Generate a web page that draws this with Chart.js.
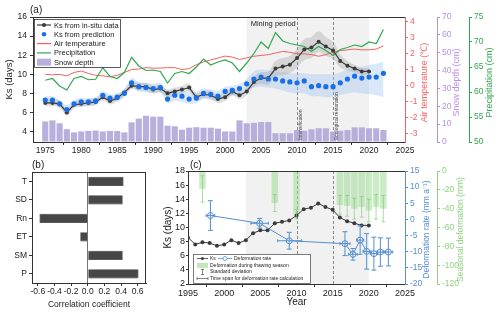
<!DOCTYPE html>
<html>
<head>
<meta charset="utf-8">
<script src="https://cdn.jsdelivr.net/npm/chart.js@4.4.1/dist/chart.umd.min.js"></script>
<style>
  html, body { margin: 0; padding: 0; background: #fff; }
  #wrap { position: relative; width: 500px; height: 312px; overflow: hidden; }
  canvas { position: absolute; }
</style>
</head>
<body>
<div id="wrap">
  <canvas id="chartA" width="500" height="157" style="left:0;top:0"></canvas>
  <canvas id="chartB" width="160" height="154" style="left:0;top:158px"></canvas>
  <canvas id="chartC" width="340" height="154" style="left:160px;top:158px"></canvas>
</div>
<script>
// ---- panel (a) data ----
const years = [1975, 1976, 1977, 1978, 1979, 1980, 1981, 1982, 1983, 1984,
               1985, 1986, 1987, 1988, 1989, 1990, 1991, 1992, 1993, 1994,
               1995, 1996, 1997, 1998, 1999, 2000, 2001, 2002, 2003, 2004,
               2005, 2006, 2007, 2008, 2009, 2010, 2011, 2012, 2013, 2014,
               2015, 2016, 2017, 2018, 2019, 2020, 2021, 2022];
const ksInsitu = [7.0, 7.0, 6.9, 6.0, 6.8, 6.9, 7.0, 7.1, 7.6, 7.2,
                  7.5, 8.1, 8.8, 8.7, 8.7, 8.4, 8.5, 8.0, 8.2, 8.4,
                  8.6, 7.6, 7.9, 7.8, 7.4, 7.6, 8.2, 7.8, 8.2, 9.2,
                  9.6, 9.6, 10.6, 10.8, 11.0, 11.7, 12.6, 12.8, 13.4, 12.9,
                  12.5, 11.4, 10.9, 10.6, 10.3, 10.3, null, null];
const ksInsituHi = [7.35, 7.35, 7.25, 6.35, 7.15, 7.25, 7.35, 7.45, 7.95, 7.55,
                    7.85, 8.45, 9.2, 9.1, 9.1, 8.8, 8.9, 8.4, 8.6, 8.8,
                    9.0, 8.0, 8.3, 8.2, 7.8, 8.0, 8.6, 8.2, 8.6, 9.7,
                    10.2, 10.3, 11.4, 11.7, 11.9, 12.7, 13.7, 13.9, 14.5, 13.9,
                    13.4, 12.1, 11.4, 11.0, 10.65, 10.65, null, null];
const ksInsituLo = [6.65, 6.65, 6.55, 5.65, 6.45, 6.55, 6.65, 6.75, 7.25, 6.85,
                    7.15, 7.75, 8.4, 8.3, 8.3, 8.0, 8.1, 7.6, 7.8, 8.0,
                    8.2, 7.2, 7.5, 7.4, 7.0, 7.2, 7.8, 7.4, 7.8, 8.7,
                    9.0, 8.9, 9.8, 9.9, 10.1, 10.7, 11.5, 11.7, 12.3, 11.9,
                    11.6, 10.7, 10.4, 10.2, 9.95, 9.95, null, null];
const ksPredicted = [7.3, 7.3, 6.9, 6.3, 6.9, 7.1, 7.1, 7.2, 7.8, 7.5,
                     7.6, 8.0, 9.1, 8.7, 8.6, 8.5, 8.6, 7.4, 7.8, 7.7,
                     7.4, 7.5, 8.0, 7.9, 7.7, 8.2, 8.3, 8.5, 9.0, 9.5,
                     9.7, 9.5, 9.5, 9.3, 9.2, 9.1, 9.3, 8.7, 8.8, 8.7,
                     8.7, 9.1, 9.5, 9.8, 9.6, 9.7, 9.7, 10.1];
const ksPredHi = [7.7, 7.7, 7.3, 6.8, 7.3, 7.5, 7.5, 7.6, 8.2, 7.9,
                  8.0, 8.4, 9.6, 9.2, 9.1, 9.0, 9.1, 8.3, 8.4, 8.3,
                  8.2, 8.2, 8.5, 8.4, 8.3, 8.7, 8.8, 9.0, 9.5, 10.3,
                  10.5, 10.4, 10.3, 10.2, 10.1, 10.1, 10.1, 10.0, 10.0, 10.0,
                  10.0, 10.2, 10.5, 10.7, 10.8, 11.0, 11.1, 11.3];
const ksPredLo = [6.9, 6.9, 6.5, 5.9, 6.5, 6.7, 6.7, 6.8, 7.4, 7.1,
                  7.2, 7.6, 8.6, 8.2, 8.1, 8.0, 8.1, 7.0, 7.2, 7.1,
                  6.9, 7.0, 7.4, 7.3, 7.2, 7.6, 7.7, 8.0, 8.4, 8.6,
                  8.7, 8.6, 8.5, 8.3, 8.1, 8.0, 8.0, 7.7, 7.7, 7.6,
                  7.6, 7.8, 8.0, 8.1, 8.0, 7.9, 7.8, 7.6];
const airTemp = [0.72, 0.69, 0.72, 0.63, 0.84, 0.93, 0.78, 0.66, 0.63, 0.57,
                 0.66, 0.84, 1.02, 1.05, 1.14, 1.11, 1.11, 1.14, 1.14, 1.02,
                 1.08, 1.32, 1.5, 1.62, 1.74, 1.86, 1.8, 1.65, 1.75, 1.85,
                 1.9, 1.95, 2.05, 2.15, 2.1, 2.0, 2.0, 1.95, 1.85, 1.95,
                 2.1, 2.2, 2.25, 2.3, 2.25, 2.25, 2.3, 2.5];
const precipitation = [62.35, 62.7, 61.2, 60.4, 62.7, 63.1, 62.45, 62.55, 64.85, 63.1,
                       62.7, 63.9, 66.95, 65.2, 64.3, 64.4, 64.1, 61.8, 63.7, 64.1,
                       63.7, 65.0, 66.6, 65.4, 66.0, 66.4, 65.8, 64.1, 65.8, 67.7,
                       70.0, 68.7, 71.9, 70.2, 69.7, 69.4, 69.1, 68.1, 69.1, 68.3,
                       67.3, 68.5, 68.9, 69.4, 69.1, 70.0, 69.7, 72.5];
const snowDepth = [11.5, 12.1, 10.5, 7.2, 5.4, 5.9, 6.2, 6.4, 5.9, 6.2,
                   6.2, 5.4, 11.0, 13.1, 14.7, 14.2, 14.2, 9.1, 8.8, 6.9,
                   8.0, 8.3, 8.0, 8.0, 7.5, 5.9, 5.9, 12.1, 10.5, 10.7,
                   11.2, 11.2, 4.9, 4.9, 4.9, 6.7, 6.3, 7.1, 7.7, 7.7,
                   5.8, 6.3, 6.7, 8.2, 8.2, 7.7, 7.7, 6.7];
const miningPeriod = [2003, 2020];
const eventYears = [2010, 2015];
const yearTicksA = [1975, 1980, 1985, 1990, 1995, 2000, 2005, 2010, 2015, 2020, 2025];
const ksTicksA = [4, 6, 8, 10, 12, 14, 16];
const tempTicks = [-3, -2, -1, 0, 1, 2, 3, 4];
const snowTicks = [0, 10, 20, 30, 40, 50, 60, 70];
const precipTicks = [50, 55, 60, 65, 70, 75];

// ---- panel (b) data ----
const factors = ['T', 'SD', 'Rn', 'ET', 'SM', 'P'];
const correlation = [0.43, 0.42, -0.58, -0.09, 0.42, 0.61];
const corrTicks = [-0.6, -0.4, -0.2, 0, 0.2, 0.4, 0.6];

// ---- panel (c) data ----
const seasonYears = [1997, 2007, 2010, 2016, 2017, 2018, 2019, 2020, 2021, 2022];
const seasonDef = [-19, -34, -46, -36, -37, -40, -38, -42, -38, -40];
const seasonErr = [14, 9, 5, 10, 11, 11, 11, 12, 13, 14];
const rateYears = [1998.1, 2004.9, 2009.0, 2016.7, 2017.8, 2018.8, 2019.7, 2020.7, 2021.6, 2022.7];
const rateValues = [1.2, -1.2, -6.6, -7.5, -10.8, -6.4, -9.9, -10.6, -10.1, -10.1];
const rateErr = [4.6, 1.5, 2.6, 3.7, 1.8, 4.4, 5.5, 5.1, 4.4, 4.3];
const rateSpanStart = [1997.5, 2003.7, 2007.4, 2016.0, 2017.2, 2018.3, 2019.2, 2020.2, 2021.1, 2022.1];
const rateSpanEnd = [1998.7, 2006.1, 2010.7, 2017.4, 2018.4, 2019.3, 2020.3, 2021.2, 2022.1, 2023.3];
const yearTicksC = [1995, 2000, 2005, 2010, 2015, 2020, 2025];
const ksTicksC = [2, 4, 6, 8, 10, 12, 14, 16, 18];
const rateTicks = [-20, -15, -10, -5, 0, 5, 10, 15];
const seasonTicks = [-120, -100, -80, -60, -40, -20, 0];

const FONT = '"Liberation Sans", Arial, Helvetica, sans-serif';
Chart.defaults.font.family = FONT;
Chart.defaults.font.size = 8.5;
Chart.defaults.color = '#222';
Chart.defaults.animation = false;

const C_KS = '#3b3b3b';
const C_PRED = '#1b6fe6';
const C_TEMP = '#f06262';
const C_PRECIP = '#2fa84f';
const C_SNOW = 'rgba(176,166,216,0.9)';
const C_SNOW_AXIS = '#bb8ee8';
const C_RATE = '#5690cf';
const C_SEASON = '#8fd17f';

function setTicks(vals) { return s => { s.ticks = vals.map(v => ({ value: v })); }; }
function fixedWidth(w) { return s => { s.width = w; }; }
function fixedHeight(h) { return s => { s.height = h; }; }
function points(xs, ys) { return xs.map((x, i) => ({ x: x, y: ys[i] })); }

function sideAxis(pos, color, min, max, tickVals, width) {
  return {
    position: pos, min: min, max: max,
    afterBuildTicks: setTicks(tickVals),
    afterFit: fixedWidth(width),
    ticks: { color: color, padding: 2, font: { size: 8.5 } },
    grid: { drawOnChartArea: false, tickLength: 3, color: color },
    border: { color: color }
  };
}

function vText(ctx, text, x, y, color, size, align) {
  ctx.save();
  ctx.translate(x, y);
  ctx.rotate(-Math.PI / 2);
  ctx.fillStyle = color;
  ctx.font = size + 'px ' + FONT;
  ctx.textAlign = align || 'center';
  ctx.textBaseline = 'middle';
  ctx.fillText(text, 0, 0);
  ctx.restore();
}

function line(ctx, x1, y1, x2, y2) {
  ctx.beginPath();
  ctx.moveTo(x1, y1);
  ctx.lineTo(x2, y2);
  ctx.stroke();
}

function shadePeriods(chart) {
  const { ctx, chartArea: a, scales: { x } } = chart;
  const x0 = x.getPixelForValue(miningPeriod[0]);
  const x1 = x.getPixelForValue(miningPeriod[1]);
  ctx.save();
  ctx.fillStyle = '#f1f1f1';
  ctx.fillRect(x0, a.top, x1 - x0, a.bottom - a.top);
  ctx.strokeStyle = '#8a8a8a';
  ctx.lineWidth = 1;
  ctx.setLineDash([3, 2]);
  eventYears.forEach(yr => {
    const px = Math.round(x.getPixelForValue(yr)) + 0.5;
    line(ctx, px, a.top, px, a.bottom);
  });
  ctx.restore();
}

function topBorder(chart, color) {
  const { ctx, chartArea: a } = chart;
  ctx.save();
  ctx.strokeStyle = color;
  ctx.lineWidth = 1;
  line(ctx, a.left, a.top + 0.5, a.right, a.top + 0.5);
  ctx.restore();
}

// ---------- panel (a) ----------
const panelA = {
  id: 'panelA',
  beforeDatasetsDraw(chart) { shadePeriods(chart); },
  afterDraw(chart) {
    const { ctx, chartArea: a, scales } = chart;
    topBorder(chart, '#333');
    ctx.save();
    ctx.fillStyle = '#222';
    ctx.font = '10px ' + FONT;
    ctx.textBaseline = 'middle';
    ctx.fillText('(a)', 30, 10);
    ctx.font = '7.5px ' + FONT;
    ctx.fillText('Mining period', scales.x.getPixelForValue(miningPeriod[0]) + 4, a.top + 7);
    ctx.restore();
    vText(ctx, 'Intensification', scales.x.getPixelForValue(eventYears[0]) + 4, a.bottom - 2, '#444', 5, 'left');
    vText(ctx, 'Ecological restoration', scales.x.getPixelForValue(eventYears[1]) + 4, a.bottom - 2, '#444', 5, 'left');

    const midY = (a.top + a.bottom) / 2 + 3;
    vText(ctx, 'Air temperature (\u2103)', scales.yT.left + 20, midY, C_TEMP, 9);
    vText(ctx, 'Snow depth (cm)', scales.ySD.left + 20, midY, C_SNOW_AXIS, 9);
    vText(ctx, 'Precipitation (cm)', scales.yP.left + 21, midY, C_PRECIP, 9);

    // legend
    const x0 = a.left + 1, y0 = 19, w = 86, h = 48;
    ctx.save();
    ctx.fillStyle = '#fff';
    ctx.fillRect(x0, y0, w, h);
    ctx.strokeStyle = '#333';
    ctx.lineWidth = 0.8;
    ctx.strokeRect(x0 + 0.5, y0 + 0.5, w, h);
    const labels = ['Ks from in-situ data', 'Ks from prediction', 'Air temperature', 'Precipitation', 'Snow depth'];
    labels.forEach((t, i) => {
      const yy = y0 + 6 + i * 9.3;
      if (i === 0 || i === 2 || i === 3) {
        ctx.strokeStyle = [C_KS, null, C_TEMP, C_PRECIP][i];
        ctx.lineWidth = 1.2;
        line(ctx, x0 + 3, yy, x0 + 17, yy);
      }
      if (i === 0 || i === 1) {
        ctx.fillStyle = i === 0 ? C_KS : C_PRED;
        ctx.beginPath();
        ctx.arc(x0 + 10, yy, i === 0 ? 2 : 2.3, 0, Math.PI * 2);
        ctx.fill();
      }
      if (i === 4) {
        ctx.fillStyle = C_SNOW;
        ctx.fillRect(x0 + 3, yy - 3.5, 14, 7);
      }
      ctx.fillStyle = '#222';
      ctx.font = '7.5px ' + FONT;
      ctx.textBaseline = 'middle';
      ctx.fillText(t, x0 + 20, yy + 0.5);
    });
    ctx.restore();
  }
};

new Chart(document.getElementById('chartA'), {
  type: 'line',
  data: {
    datasets: [
      { data: points(years, ksInsituHi), yAxisID: 'yKs', fill: '+1', backgroundColor: 'rgba(160,160,160,0.35)', borderWidth: 0, pointRadius: 0, tension: 0.4, order: 8 },
      { data: points(years, ksInsituLo), yAxisID: 'yKs', fill: false, borderWidth: 0, pointRadius: 0, tension: 0.4, order: 8 },
      { data: points(years, ksPredHi), yAxisID: 'yKs', fill: '+1', backgroundColor: 'rgba(150,190,240,0.35)', borderWidth: 0, pointRadius: 0, tension: 0.4, order: 9 },
      { data: points(years, ksPredLo), yAxisID: 'yKs', fill: false, borderWidth: 0, pointRadius: 0, tension: 0.4, order: 9 },
      { data: points(years, ksInsitu), yAxisID: 'yKs', borderColor: C_KS, borderWidth: 1.2, pointRadius: 2, pointBackgroundColor: C_KS, pointBorderWidth: 0, order: 2 },
      { data: points(years, ksPredicted), yAxisID: 'yKs', showLine: false, pointRadius: 2.6, pointBackgroundColor: C_PRED, pointBorderWidth: 0, order: 1 },
      { data: points(years, airTemp), yAxisID: 'yT', borderColor: C_TEMP, borderWidth: 1, pointRadius: 0, order: 5 },
      { data: points(years, precipitation), yAxisID: 'yP', borderColor: C_PRECIP, borderWidth: 1.2, pointRadius: 0, order: 4 },
      { type: 'bar', data: points(years, snowDepth), yAxisID: 'ySD', backgroundColor: C_SNOW, barPercentage: 0.85, categoryPercentage: 1, order: 10 }
    ]
  },
  options: {
    responsive: false,
    events: [],
    layout: { padding: { top: 17, left: 0, right: 0, bottom: 0 } },
    plugins: { legend: { display: false }, tooltip: { enabled: false } },
    scales: {
      x: {
        type: 'linear', min: 1973.3, max: 2025, offset: false,
        afterBuildTicks: setTicks(yearTicksA),
        afterFit: fixedHeight(15),
        ticks: { callback: v => String(v), padding: 1, maxRotation: 0, autoSkip: false, font: { size: 8.5 } },
        grid: { drawOnChartArea: false, tickLength: 3, color: '#333' },
        border: { color: '#333' }
      },
      yKs: {
        position: 'left', min: 2.9, max: 16,
        afterBuildTicks: setTicks(ksTicksA),
        afterFit: fixedWidth(33),
        ticks: { padding: 3, font: { size: 8.5 } },
        grid: { drawOnChartArea: false, tickLength: 3, color: '#333' },
        border: { color: '#333' },
        title: { display: true, text: 'Ks (days)', font: { size: 9.5 }, padding: { top: 4, bottom: 0 } }
      },
      yT: sideAxis('right', C_TEMP, -3.5, 4.3, tempTicks, 32),
      ySD: sideAxis('right', C_SNOW_AXIS, 0, 70, snowTicks, 32),
      yP: sideAxis('right', C_PRECIP, 50, 75, precipTicks, 31)
    }
  },
  plugins: [panelA]
});

// ---------- panel (b) ----------
const panelB = {
  id: 'panelB',
  afterDraw(chart) {
    const { ctx, chartArea: a } = chart;
    ctx.save();
    ctx.strokeStyle = '#333';
    ctx.lineWidth = 1;
    line(ctx, a.left, a.top + 0.5, a.right, a.top + 0.5);
    line(ctx, a.right - 0.5, a.top, a.right - 0.5, a.bottom);
    ctx.fillStyle = '#222';
    ctx.font = '10px ' + FONT;
    ctx.textBaseline = 'middle';
    ctx.fillText('(b)', 32, 7);
    ctx.restore();
  }
};

new Chart(document.getElementById('chartB'), {
  type: 'bar',
  data: {
    labels: factors,
    datasets: [{ data: correlation, backgroundColor: '#474747', borderColor: '#2b2b2b', borderWidth: 0.6, barPercentage: 0.5, categoryPercentage: 1 }]
  },
  options: {
    responsive: false,
    events: [],
    indexAxis: 'y',
    layout: { padding: { top: 14, right: 14, left: 0, bottom: 0 } },
    plugins: { legend: { display: false }, tooltip: { enabled: false } },
    scales: {
      x: {
        min: -0.67, max: 0.7,
        afterBuildTicks: setTicks(corrTicks),
        afterFit: fixedHeight(29),
        ticks: { callback: v => v.toFixed(1), padding: 1, maxRotation: 0, autoSkip: false },
        grid: { color: c => (c.tick && c.tick.value === 0 ? '#777' : 'rgba(0,0,0,0)'), tickColor: '#333', tickLength: 3 },
        border: { color: '#333' },
        title: { display: true, text: 'Correlation coefficient', font: { size: 8.5 }, padding: { top: 2, bottom: 2 } }
      },
      y: {
        afterFit: fixedWidth(32),
        ticks: { padding: 2 },
        grid: { offset: false, drawOnChartArea: false, tickLength: 3, color: '#333' },
        border: { color: '#333' }
      }
    }
  },
  plugins: [panelB]
});

// ---------- panel (c) ----------
const panelC = {
  id: 'panelC',
  beforeDatasetsDraw(chart) { shadePeriods(chart); },
  afterDatasetsDraw(chart) {
    const { ctx, scales: { x, yRate, ySeason } } = chart;
    ctx.save();
    // seasonal deformation standard deviation
    ctx.strokeStyle = 'rgba(125,200,112,0.8)';
    ctx.lineWidth = 0.8;
    seasonYears.forEach((yr, i) => {
      const px = x.getPixelForValue(yr);
      const yLow = ySeason.getPixelForValue(seasonDef[i] - seasonErr[i]);
      const yHigh = ySeason.getPixelForValue(Math.min(0, seasonDef[i] + seasonErr[i]));
      line(ctx, px, yLow, px, yHigh);
      line(ctx, px - 2, yLow, px + 2, yLow);
      line(ctx, px - 2, yHigh, px + 2, yHigh);
    });
    // deformation rate: standard deviation and time span
    ctx.strokeStyle = C_RATE;
    ctx.lineWidth = 1;
    rateYears.forEach((yr, i) => {
      const px = x.getPixelForValue(yr);
      const py = yRate.getPixelForValue(rateValues[i]);
      const yLow = yRate.getPixelForValue(rateValues[i] - rateErr[i]);
      const yHigh = yRate.getPixelForValue(rateValues[i] + rateErr[i]);
      line(ctx, px, yLow, px, yHigh);
      line(ctx, px - 2.5, yLow, px + 2.5, yLow);
      line(ctx, px - 2.5, yHigh, px + 2.5, yHigh);
      const xs = x.getPixelForValue(rateSpanStart[i]);
      const xe = x.getPixelForValue(rateSpanEnd[i]);
      line(ctx, xs, py, xe, py);
      line(ctx, xs, py - 1.5, xs, py + 1.5);
      line(ctx, xe, py - 1.5, xe, py + 1.5);
    });
    ctx.restore();
  },
  afterDraw(chart) {
    const { ctx, chartArea: a, scales } = chart;
    topBorder(chart, '#333');
    ctx.save();
    ctx.fillStyle = '#222';
    ctx.font = '10px ' + FONT;
    ctx.textBaseline = 'middle';
    ctx.fillText('(c)', 30, 7);
    ctx.restore();
    const midY = (a.top + a.bottom) / 2 + 2;
    vText(ctx, 'Deformation rate (mm a\u207B\u00B9)', scales.yRate.left + 22, midY, C_RATE, 8.5);
    vText(ctx, 'Seasonal deformation (mm)', scales.ySeason.left + 24, midY, C_SEASON, 8.5);

    // legend
    const x0 = a.left + 5, y0 = a.bottom - 30, w = 117, h = 29;
    ctx.save();
    ctx.fillStyle = '#fff';
    ctx.fillRect(x0, y0, w, h);
    ctx.strokeStyle = '#444';
    ctx.lineWidth = 0.7;
    ctx.strokeRect(x0 + 0.5, y0 + 0.5, w, h);
    ctx.font = '5px ' + FONT;
    ctx.textBaseline = 'middle';
    const tx = x0 + 17;
    const rows = [y0 + 4.5, y0 + 11.5, y0 + 18, y0 + 24.5];
    // row 1
    ctx.strokeStyle = C_KS; ctx.lineWidth = 0.8;
    line(ctx, x0 + 4, rows[0], x0 + 15, rows[0]);
    ctx.fillStyle = C_KS;
    ctx.beginPath(); ctx.arc(x0 + 9.5, rows[0], 1.5, 0, Math.PI * 2); ctx.fill();
    ctx.fillStyle = '#222';
    ctx.fillText('Ks', tx, rows[0]);
    ctx.strokeStyle = C_RATE;
    line(ctx, x0 + 25, rows[0], x0 + 39, rows[0]);
    ctx.fillStyle = '#fff';
    ctx.beginPath(); ctx.arc(x0 + 32, rows[0], 2, 0, Math.PI * 2); ctx.fill(); ctx.stroke();
    ctx.fillStyle = '#222';
    ctx.fillText('Deformation rate', x0 + 41, rows[0]);
    // row 2
    ctx.fillStyle = 'rgba(150,220,140,0.6)';
    ctx.fillRect(x0 + 4, rows[1] - 2.5, 11, 5);
    ctx.fillStyle = '#222';
    ctx.fillText('Deformation during thawing season', tx, rows[1]);
    // row 3
    ctx.strokeStyle = '#333'; ctx.lineWidth = 0.6;
    line(ctx, x0 + 9.5, rows[2] - 2.5, x0 + 9.5, rows[2] + 2.5);
    line(ctx, x0 + 8, rows[2] - 2.5, x0 + 11, rows[2] - 2.5);
    line(ctx, x0 + 8, rows[2] + 2.5, x0 + 11, rows[2] + 2.5);
    ctx.fillText('Standard deviation', tx, rows[2]);
    // row 4
    line(ctx, x0 + 4, rows[3], x0 + 15, rows[3]);
    line(ctx, x0 + 4, rows[3] - 1.5, x0 + 4, rows[3] + 1.5);
    line(ctx, x0 + 15, rows[3] - 1.5, x0 + 15, rows[3] + 1.5);
    ctx.fillText('Time span for deformation rate calculation', tx, rows[3]);
    ctx.restore();
  }
};

const ksC = years.map((yr, i) => ({ x: yr, y: ksInsitu[i] })).filter(p => p.x >= 1995 && p.y !== null);

new Chart(document.getElementById('chartC'), {
  type: 'line',
  data: {
    datasets: [
      { type: 'bar', data: points(seasonYears, seasonDef), yAxisID: 'ySeason', backgroundColor: 'rgba(150,220,140,0.5)', barPercentage: 0.9, categoryPercentage: 1, order: 10 },
      { data: ksC, yAxisID: 'yKs', borderColor: C_KS, borderWidth: 1, pointRadius: 2, pointBackgroundColor: C_KS, pointBorderWidth: 0, order: 3 },
      { data: points(rateYears, rateValues), yAxisID: 'yRate', borderColor: C_RATE, borderWidth: 1, pointRadius: 3, pointBackgroundColor: 'rgba(255,255,255,0.4)', pointBorderColor: C_RATE, pointBorderWidth: 1, order: 1 }
    ]
  },
  options: {
    responsive: false,
    events: [],
    layout: { padding: { top: 13, left: 0, right: 0, bottom: 0 } },
    plugins: { legend: { display: false }, tooltip: { enabled: false } },
    scales: {
      x: {
        type: 'linear', min: 1995, max: 2025, offset: false,
        afterBuildTicks: setTicks(yearTicksC),
        afterFit: fixedHeight(28),
        ticks: { callback: v => String(v), padding: 1, maxRotation: 0, autoSkip: false, font: { size: 9 } },
        grid: { drawOnChartArea: false, tickLength: 3, color: '#333' },
        border: { color: '#333' },
        title: { display: true, text: 'Year', font: { size: 10 }, padding: { top: 0, bottom: 4 } }
      },
      yKs: {
        position: 'left', min: 2, max: 18,
        afterBuildTicks: setTicks(ksTicksC),
        afterFit: fixedWidth(28),
        ticks: { padding: 1, font: { size: 9 } },
        grid: { drawOnChartArea: false, tickLength: 2, color: '#333' },
        border: { color: '#333' },
        title: { display: true, text: 'Ks (days)', font: { size: 10 }, padding: { top: 2, bottom: 0 } }
      },
      yRate: sideAxis('right', C_RATE, -20, 15, rateTicks, 32),
      ySeason: sideAxis('right', C_SEASON, -120, 0, seasonTicks, 63)
    }
  },
  plugins: [panelC]
});
</script>
</body>
</html>
